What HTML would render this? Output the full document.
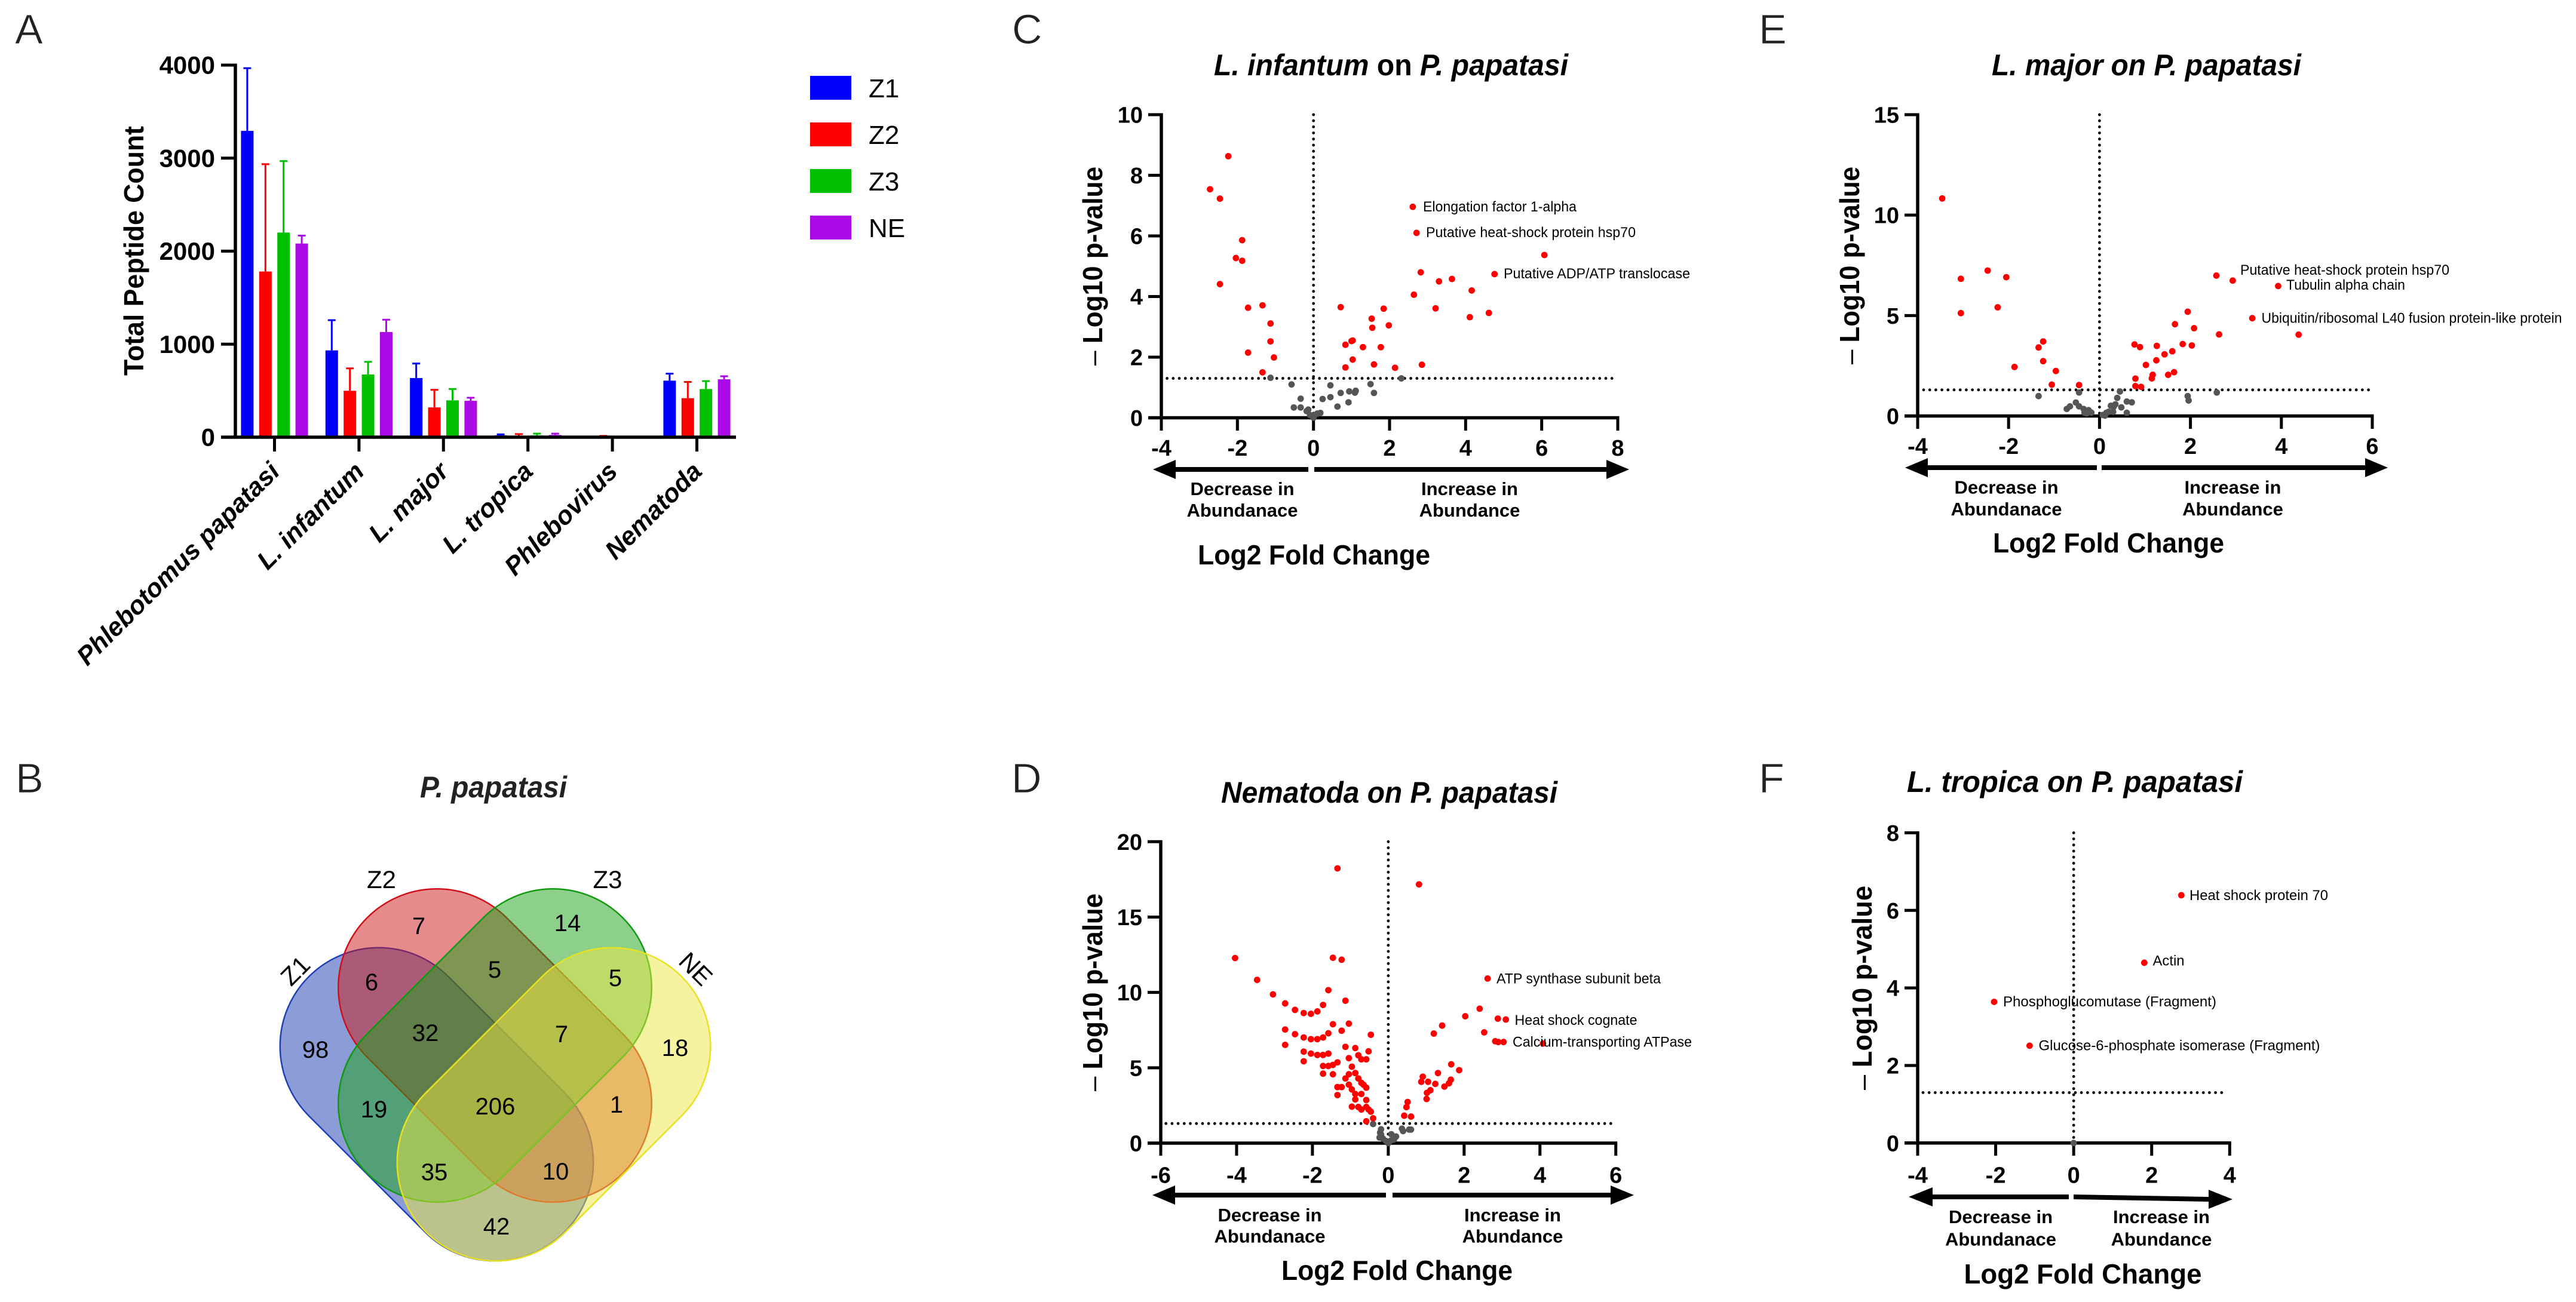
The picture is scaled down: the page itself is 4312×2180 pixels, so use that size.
<!DOCTYPE html>
<html lang="en">
<head>
<meta charset="utf-8">
<title>Peptide counts and volcano plots</title>
<style>
html,body{margin:0;padding:0;background:#fff;}
svg{display:block;font-family:"Liberation Sans",Arial,sans-serif;}
.letter{font-size:70px;fill:#222;stroke:#fff;stroke-width:0.8px;}
.title{font-size:50px;font-weight:bold;fill:#000;}
.ytitle{font-size:46px;font-weight:bold;fill:#000;}
.xtitle{font-size:46px;font-weight:bold;fill:#000;}
.dir{font-size:31px;font-weight:bold;fill:#000;text-anchor:middle;}
.note{font-size:24px;fill:#000;}
.venn-n{font-size:40px;fill:#000;text-anchor:middle;}
.legend-text{font-size:44px;fill:#000;}
</style>
</head>
<body>
<svg id="fig" xmlns="http://www.w3.org/2000/svg" width="4312" height="2180" viewBox="0 0 4312 2180">
  <rect x="0" y="0" width="4312" height="2180" fill="#fff"/>

  <text class="letter" x="25" y="73">A</text>
  <text class="letter" x="26" y="1327">B</text>
  <text class="letter" x="1694" y="73">C</text>
  <text class="letter" x="1693" y="1327">D</text>
  <text class="letter" x="2944" y="73">E</text>
  <text class="letter" x="2944" y="1327">F</text>

  <g id="panelA">
    <text class="ytitle" transform="translate(240,629) rotate(-90)" textLength="418" lengthAdjust="spacingAndGlyphs">Total Peptide Count</text>
    <g>
      <g><rect x="1356" y="127" width="69" height="40" fill="#0000ff"/><text class="legend-text" x="1454" y="163">Z1</text></g>
      <g><rect x="1356" y="205" width="69" height="40" fill="#ff0000"/><text class="legend-text" x="1454" y="241">Z2</text></g>
      <g><rect x="1356" y="283" width="69" height="40" fill="#00c000"/><text class="legend-text" x="1454" y="319">Z3</text></g>
      <g><rect x="1356" y="361" width="69" height="40" fill="#aa0ae6"/><text class="legend-text" x="1454" y="397">NE</text></g>
    </g>
  </g>

  <g id="panelB">
    <text x="703" y="1335" font-size="50" font-weight="bold" font-style="italic" fill="#222" textLength="246" lengthAdjust="spacingAndGlyphs">P. papatasi</text>
    <rect x="428.5" y="1684" width="605" height="330" rx="165" ry="165" transform="rotate(45 731 1849)" fill="#1739ad" fill-opacity="0.5" stroke="#1f3fb5" stroke-width="2.5"/>
    <rect x="526" y="1585.5" width="605" height="330" rx="165" ry="165" transform="rotate(45 828.5 1750.5)" fill="#cb1719" fill-opacity="0.5" stroke="#d01018" stroke-width="2.5"/>
    <rect x="526" y="1585.5" width="605" height="330" rx="165" ry="165" transform="rotate(-45 828.5 1750.5)" fill="#19a119" fill-opacity="0.5" stroke="#109a10" stroke-width="2.5"/>
    <rect x="624.5" y="1684" width="605" height="330" rx="165" ry="165" transform="rotate(-45 927 1849)" fill="#ebe741" fill-opacity="0.5" stroke="#e8e020" stroke-width="2.5"/>
    <text x="0" y="0" font-size="42" text-anchor="middle" transform="translate(494,1625) rotate(-45) translate(0,15)">Z1</text>
    <text x="638.5" y="1487" font-size="42" text-anchor="middle">Z2</text>
    <text x="1017" y="1487" font-size="42" text-anchor="middle">Z3</text>
    <text x="0" y="0" font-size="42" text-anchor="middle" transform="translate(1165,1622) rotate(45) translate(0,15)">NE</text>
    <text class="venn-n" x="528" y="1771">98</text>
    <text class="venn-n" x="701" y="1564">7</text>
    <text class="venn-n" x="950" y="1559">14</text>
    <text class="venn-n" x="1130" y="1768">18</text>
    <text class="venn-n" x="622" y="1658">6</text>
    <text class="venn-n" x="828" y="1637">5</text>
    <text class="venn-n" x="1030" y="1651">5</text>
    <text class="venn-n" x="712" y="1743">32</text>
    <text class="venn-n" x="940" y="1745">7</text>
    <text class="venn-n" x="626" y="1871">19</text>
    <text class="venn-n" x="829" y="1866">206</text>
    <text class="venn-n" x="1032" y="1863">1</text>
    <text class="venn-n" x="727" y="1976">35</text>
    <text class="venn-n" x="930" y="1975">10</text>
    <text class="venn-n" x="831" y="2067">42</text>
  </g>

  <g id="panelC"></g>
  <g id="panelD"></g>
  <g id="panelE"></g>
  <g id="panelF"></g>

  <g>
    <text class="title" x="2032" y="126" textLength="593" lengthAdjust="spacingAndGlyphs"><tspan font-style="italic">L. infantum</tspan> on <tspan font-style="italic">P. papatasi</tspan></text>
    <text class="ytitle" transform="translate(1845,612) rotate(-90)" textLength="333" lengthAdjust="spacingAndGlyphs"><tspan font-weight="normal">–</tspan> Log10 p-value</text>
    <polygon points="1930,786 1968,770 1968,782 2190,782 2190,790 1968,790 1968,802"/>
    <polygon points="2727,786 2689,770 2689,782 2200,782 2200,790 2689,790 2689,802"/>
    <text class="dir" x="2079.5" y="829">Decrease in</text>
    <text class="dir" x="2079.5" y="865">Abundanace</text>
    <text class="dir" x="2460" y="829">Increase in</text>
    <text class="dir" x="2460" y="865">Abundance</text>
    <text class="xtitle" x="2005" y="945" textLength="389" lengthAdjust="spacingAndGlyphs">Log2 Fold Change</text>
    <text class="note" x="2382" y="354" textLength="257" lengthAdjust="spacingAndGlyphs">Elongation factor 1-alpha</text>
    <text class="note" x="2387" y="397" textLength="351" lengthAdjust="spacingAndGlyphs">Putative heat-shock protein hsp70</text>
    <text class="note" x="2517" y="466" textLength="312" lengthAdjust="spacingAndGlyphs">Putative ADP/ATP translocase</text>
  </g>

  <g>
    <text class="title" x="2044" y="1344" font-style="italic" textLength="563" lengthAdjust="spacingAndGlyphs">Nematoda on P. papatasi</text>
    <text class="ytitle" transform="translate(1845,1827) rotate(-90)" textLength="331" lengthAdjust="spacingAndGlyphs"><tspan font-weight="normal">–</tspan> Log10 p-value</text>
    <polygon points="1929,2001 1967,1985 1967,1997 2320,1997 2320,2005 1967,2005 1967,2017"/>
    <polygon points="2735,2001 2696,1985 2696,1997 2331,1997 2331,2005 2696,2005 2696,2017"/>
    <text class="dir" x="2125.5" y="2045">Decrease in</text>
    <text class="dir" x="2125.5" y="2080.5">Abundanace</text>
    <text class="dir" x="2532" y="2045">Increase in</text>
    <text class="dir" x="2532" y="2080.5">Abundance</text>
    <text class="xtitle" x="2145" y="2143" textLength="387" lengthAdjust="spacingAndGlyphs">Log2 Fold Change</text>
    <text class="note" x="2505" y="1646.5" textLength="275" lengthAdjust="spacingAndGlyphs">ATP synthase subunit beta</text>
    <text class="note" x="2535.5" y="1716" textLength="205" lengthAdjust="spacingAndGlyphs">Heat shock cognate</text>
    <text class="note" x="2532" y="1752.5" textLength="300" lengthAdjust="spacingAndGlyphs">Calcium-transporting ATPase</text>
  </g>

  <g>
    <text class="title" x="3334" y="126" font-style="italic" textLength="518" lengthAdjust="spacingAndGlyphs">L. major on P. papatasi</text>
    <text class="ytitle" transform="translate(3112,610) rotate(-90)" textLength="331" lengthAdjust="spacingAndGlyphs"><tspan font-weight="normal">–</tspan> Log10 p-value</text>
    <polygon points="3189,783 3227,767 3227,779 3510,779 3510,787 3227,787 3227,799"/>
    <polygon points="3997,783 3959,767 3959,779 3518,779 3518,787 3959,787 3959,799"/>
    <text class="dir" x="3358.5" y="826.5">Decrease in</text>
    <text class="dir" x="3358.5" y="863">Abundanace</text>
    <text class="dir" x="3737.5" y="826.5">Increase in</text>
    <text class="dir" x="3737.5" y="863">Abundance</text>
    <text class="xtitle" x="3336" y="925" textLength="387" lengthAdjust="spacingAndGlyphs">Log2 Fold Change</text>
    <text class="note" x="3750" y="460" textLength="350" lengthAdjust="spacingAndGlyphs">Putative heat-shock protein hsp70</text>
    <text class="note" x="3827" y="485" textLength="199" lengthAdjust="spacingAndGlyphs">Tubulin alpha chain</text>
    <text class="note" x="3785.5" y="540.5" textLength="503" lengthAdjust="spacingAndGlyphs">Ubiquitin/ribosomal L40 fusion protein-like protein</text>
  </g>

  <g>
    <text class="title" x="3192" y="1326" font-style="italic" textLength="562" lengthAdjust="spacingAndGlyphs">L. tropica on P. papatasi</text>
    <text class="ytitle" transform="translate(3133,1825) rotate(-90)" textLength="342" lengthAdjust="spacingAndGlyphs"><tspan font-weight="normal">–</tspan> Log10 p-value</text>
    <polygon points="3195,2004 3235,1988 3235,2000 3463,2000 3463,2008 3235,2008 3235,2020"/>
    <polygon points="3737,2008 3697,1992 3697,2004 3471,2000 3471,2008 3697,2012 3697,2024"/>
    <text class="dir" x="3349" y="2048">Decrease in</text>
    <text class="dir" x="3349" y="2085.5">Abundanace</text>
    <text class="dir" x="3618" y="2048">Increase in</text>
    <text class="dir" x="3618" y="2085.5">Abundance</text>
    <text class="xtitle" x="3287.5" y="2149" textLength="398" lengthAdjust="spacingAndGlyphs">Log2 Fold Change</text>
    <text class="note" x="3665" y="1507" textLength="232" lengthAdjust="spacingAndGlyphs">Heat shock protein 70</text>
    <text class="note" x="3603.5" y="1616.5" textLength="53" lengthAdjust="spacingAndGlyphs">Actin</text>
    <text class="note" x="3353" y="1685" textLength="357" lengthAdjust="spacingAndGlyphs">Phosphoglucomutase (Fragment)</text>
    <text class="note" x="3412.5" y="1758.5" textLength="471" lengthAdjust="spacingAndGlyphs">Glucose-6-phosphate isomerase (Fragment)</text>
  </g>
</svg>

<script>
// ---- Panel A data ----
const barCategories = ["Phlebotomus papatasi", "L. infantum", "L. major", "L. tropica", "Phlebovirus", "Nematoda"];
const barYTicks = [0, 1000, 2000, 3000, 4000];
const seriesNames = ["Z1", "Z2", "Z3", "NE"];
const meanZ1 = [3293, 933, 636, 20, 3, 608];
const meanZ2 = [1781, 499, 320, 15, 5, 419];
const meanZ3 = [2200, 674, 396, 20, 0, 518];
const meanNE = [2082, 1131, 391, 24, 0, 622];
const errZ1 = [674, 325, 156, 10, 0, 75];
const errZ2 = [1154, 241, 189, 18, 9, 175];
const errZ3 = [768, 136, 122, 18, 0, 85];
const errNE = [85, 132, 33, 14, 0, 33];

// ---- Panel C data ----
const cXTicks = [-4, -2, 0, 2, 4, 6, 8];
const cYTicks = [0, 2, 4, 6, 8, 10];
const cSigX = [-2.24,-2.72,-2.46,-1.875,-2.04,-1.875,-2.46,-1.72,-1.34,-1.13,-1.13,-1.72,-1.04,-1.34,0.715,1.845,1.53,1.545,1.98,1.0,1.03,0.84,1.30,1.77,1.03,1.59,0.84,2.145,2.85,2.64,2.82,3.30,3.64,3.21,4.16,4.11,4.61,4.76,2.61,2.71,6.07];
const cSigY = [8.63,7.54,7.23,5.86,5.27,5.18,4.41,3.63,3.71,3.11,2.52,2.15,1.99,1.50,3.65,3.60,3.27,2.97,3.05,2.53,2.55,2.41,2.33,2.33,1.92,1.76,1.66,1.65,1.75,4.06,4.80,4.50,4.58,3.61,4.20,3.32,3.46,4.74,6.96,6.10,5.37];
const cNsX = [-1.13,-0.577,-0.337,-0.517,-0.337,-0.138,-0.18,-0.09,0,0.03,0.10,0.18,0.24,0.445,0.445,0.63,0.715,0.92,0.94,1.09,1.11,1.50,1.59,2.31];
const cNsY = [1.32,1.10,0.63,0.34,0.34,0.27,0.22,0.09,0,0.09,0.14,0.16,0.62,0.68,1.07,0.37,0.82,0.51,0.87,0.83,0.89,1.11,0.82,1.30];

// ---- Panel D data ----
const dXTicks = [-6, -4, -2, 0, 2, 4, 6];
const dYTicks = [0, 5, 10, 15, 20];
const dSigX = [-1.34,-4.04,-3.46,-3.04,-2.72,-2.46,-2.23,-2.04,-1.87,-1.72,-1.58,-1.46,-1.23,-1.13,-1.46,-1.04,-1.23,-1.58,-1.72,-1.87,-2.04,-2.23,-2.46,-2.72,-2.72,-0.46,-1.13,-0.87,-0.52,-2.23,-2.04,-1.87,-1.72,-1.58,-0.79,-0.71,-0.58,-1.04,-1.34,-1.46,-1.58,-1.72,-2.23,-0.96,-1.72,-1.46,-0.87,-1.04,-1.13,-0.79,-0.71,-0.65,-0.58,-1.04,-1.34,-1.23,-0.96,-0.87,-0.71,-1.34,-0.87,-0.58,-0.96,-0.79,-0.71,-0.58,-0.52,-0.46,-0.40,-0.58,0.81,2.62,2.41,2.03,1.42,1.20,2.89,3.10,2.53,2.82,2.90,3.04,4.08,1.66,1.87,1.31,0.91,0.87,1.05,1.24,1.65,1.60,1.48,1.11,1.02,1.01,0.51,0.48,0.42,0.60];
const dSigY = [18.23,12.28,10.83,9.87,9.27,8.84,8.63,8.58,8.74,9.17,10.15,12.30,12.17,9.45,7.89,7.93,7.46,7.29,7.01,6.90,6.90,7.01,7.23,7.54,6.52,7.19,6.39,6.31,6.09,6.07,5.94,5.85,5.85,5.94,5.83,5.56,5.56,5.64,5.36,5.19,5.12,5.12,5.43,5.07,4.61,4.57,4.65,4.57,4.29,4.29,4.0,3.87,3.68,3.88,3.72,3.72,3.56,3.26,3.26,3.19,2.90,2.86,2.42,2.40,2.23,2.40,2.23,2.09,1.65,1.45,17.17,10.92,8.92,8.42,7.80,7.27,8.26,8.20,7.35,6.76,6.71,6.71,6.61,5.23,4.84,4.65,4.41,4.07,4.07,3.93,4.21,3.97,3.75,3.51,3.34,2.93,2.73,2.39,1.82,1.76];
const dNsX = [-0.40,-0.19,-0.215,-0.23,-0.14,-0.06,0,0.07,0.08,0.15,0.205,0.36,0.39,0.55,0.60,-0.19];
const dNsY = [1.27,0.92,0.70,0.37,0.30,0.145,0,0.17,0.59,0.24,0.44,0.96,0.80,0.90,0.90,0.57];

// ---- Panel E data ----
const eXTicks = [-4, -2, 0, 2, 4, 6];
const eYTicks = [0, 5, 10, 15];
const eSigX = [-3.46,-3.05,-3.05,-2.46,-2.05,-2.24,-1.87,-1.34,-1.24,-1.24,-0.96,-1.05,-0.45,0.77,0.89,1.26,1.02,1.25,1.43,1.60,1.83,2.03,1.66,1.94,2.08,2.63,2.57,2.93,3.36,0.79,1.17,1.15,1.51,1.64,0.79,0.915,3.93,4.38];
const eSigY = [10.83,6.83,5.12,7.24,6.91,5.41,2.44,3.41,3.71,2.73,2.24,1.56,1.54,3.56,3.43,3.49,2.54,2.77,3.07,3.22,3.58,3.51,4.57,5.19,4.37,4.06,6.99,6.74,4.87,1.86,2.05,1.87,2.05,2.18,1.49,1.45,6.47,4.05];
const eNsX = [-1.34,-0.45,-0.72,-0.65,-0.52,-0.45,-0.35,-0.33,-0.24,-0.18,-0.28,0.07,0.15,0.2,0.25,0.30,0.35,0.31,0.39,0.45,0.48,0.60,0.71,0.60,1.94,1.96,2.58,0.12];
const eNsY = [0.99,1.17,0.35,0.48,0.67,0.48,0.35,0.16,0.29,0.17,0.13,0.05,0.16,0.21,0.51,0.21,0.58,0.45,0.90,1.22,0.43,0.72,0.68,0.16,0.99,0.77,1.17,0.02];

// ---- Panel F data ----
const fXTicks = [-4, -2, 0, 2, 4];
const fYTicks = [0, 2, 4, 6, 8];
const fSigX = [2.76, 1.81, -2.04, -1.13];
const fSigY = [6.39, 4.65, 3.64, 2.51];
const fNsX = [0];
const fNsY = [0];

// Threshold shared by the volcano panels (-log10 of p = 0.05)
const pThreshold = 1.3;

const NS = 'http://www.w3.org/2000/svg';
function mk(tag, attrs, parent, txt) {
  const el = document.createElementNS(NS, tag);
  for (const k in attrs) el.setAttribute(k, attrs[k]);
  if (txt !== undefined) el.textContent = txt;
  parent.appendChild(el);
  return el;
}

// ---- Panel A drawing ----
(function () {
  const g = document.getElementById('panelA');
  const y0 = 732, y1 = 109, yMax = 4000;
  const groupX0 = 459.5, groupStep = 141.4, barStep = 30.4, barW = 21;
  const sy = v => y0 - (v / yMax) * (y0 - y1);
  const colors = ['#0000ff', '#ff0000', '#00c000', '#aa0ae6'];
  const means = [meanZ1, meanZ2, meanZ3, meanNE];
  const errs = [errZ1, errZ2, errZ3, errNE];

  means.forEach((series, s) => {
    series.forEach((v, i) => {
      const cx = groupX0 + i * groupStep + (s - 1.5) * barStep;
      const bar = mk('rect', { x: cx - barW / 2, y: sy(v), width: barW, height: y0 - sy(v), fill: colors[s] }, g);
      
      
      const top = sy(v + errs[s][i]);
      const stem = mk('line', { x1: cx, x2: cx, y1: sy(v), y2: top, stroke: colors[s], 'stroke-width': 3 }, g);
      
      
      const cap = mk('line', { x1: cx - 6.5, x2: cx + 6.5, y1: top, y2: top, stroke: colors[s], 'stroke-width': 3 }, g);
      
      
    });
  });

  const yAxis = mk('line', { x1: 394, x2: 394, y1: y1 - 2.5, y2: y0 + 2.5, stroke: '#000', 'stroke-width': 5.5 }, g);
  
  
  const xAxis = mk('line', { x1: 370, x2: 1232, y1: y0, y2: y0, stroke: '#000', 'stroke-width': 5.5 }, g);
  
  

  barYTicks.forEach(t => {
    const tick = mk('line', { x1: 370, x2: 394, y1: sy(t), y2: sy(t), stroke: '#000', 'stroke-width': 5 }, g);
    
    
    const lab = mk('text', { x: 360, y: sy(t) + 14.5, 'text-anchor': 'end', 'font-size': 42, 'font-weight': 'bold' }, g, String(t));
    
    
  });
  barCategories.forEach((c, i) => {
    const cx = groupX0 + i * groupStep;
    const tick = mk('line', { x1: cx, x2: cx, y1: y0, y2: y0 + 24, stroke: '#000', 'stroke-width': 5 }, g);
    
    
    const lab = mk('text', { transform: 'translate(' + (cx + 11) + ',792) rotate(-45)', 'text-anchor': 'end', 'font-size': 43, 'font-weight': 'bold', 'font-style': 'italic' }, g, c);
    
    
  });
})();

// ---- Volcano drawing ----
function volcano(id, p, xTicks, yTicks, sigX, sigY, nsX, nsY) {
  const g = document.getElementById(id);
  const xMin = xTicks[0], xMax = xTicks[xTicks.length - 1];
  const yMin = yTicks[0], yMax = yTicks[yTicks.length - 1];
  const sx = v => p.left + (v - xMin) / (xMax - xMin) * (p.right - p.left);
  const sy = v => p.bottom - (v - yMin) / (yMax - yMin) * (p.bottom - p.top);

  const yAxis = mk('line', { x1: p.left, x2: p.left, y1: p.top - 2.5, y2: p.bottom + 2.5, stroke: '#000', 'stroke-width': 5.5 }, g);
  
  
  const xAxis = mk('line', { x1: p.left - 22, x2: p.right + 2.5, y1: p.bottom, y2: p.bottom, stroke: '#000', 'stroke-width': 5.5 }, g);
  
  

  yTicks.forEach(t => {
    const tick = mk('line', { x1: p.left - 22, x2: p.left, y1: sy(t), y2: sy(t), stroke: '#000', 'stroke-width': 5 }, g);
    
    
    const lab = mk('text', { x: p.yLabelRight, y: sy(t) + 13.5, 'text-anchor': 'end', 'font-size': 38, 'font-weight': 'bold' }, g, String(t));
    
    
  });
  xTicks.forEach(t => {
    const tick = mk('line', { x1: sx(t), x2: sx(t), y1: p.bottom, y2: p.tickBottom, stroke: '#000', 'stroke-width': 5 }, g);
    
    
    const lab = mk('text', { x: sx(t), y: p.xLabelBase, 'text-anchor': 'middle', 'font-size': 38, 'font-weight': 'bold' }, g, String(t));
    
    
  });

  const hLine = mk('line', { x1: p.dotLeft, x2: p.dotRight, y1: sy(pThreshold), y2: sy(pThreshold), stroke: '#000', 'stroke-width': 4.8, 'stroke-linecap': 'round', 'stroke-dasharray': '0 10.2' }, g);
  
  
  const vLine = mk('line', { x1: sx(0), x2: sx(0), y1: p.top, y2: p.bottom, stroke: '#000', 'stroke-width': 4.8, 'stroke-linecap': 'round', 'stroke-dasharray': '0 10.2' }, g);
  
  

  nsX.forEach((x, i) => {
    const pt = mk('circle', { cx: sx(x), cy: sy(nsY[i]), r: 5.4, fill: '#555' }, g);
    
    
  });
  sigX.forEach((x, i) => {
    const pt = mk('circle', { cx: sx(x), cy: sy(sigY[i]), r: 5.4, fill: '#ff0000' }, g);
    
    
  });
}

volcano('panelC', { left: 1944, right: 2708, top: 192, bottom: 699.5, tickBottom: 721, yLabelRight: 1913, xLabelBase: 763, dotLeft: 1953.6, dotRight: 2704 }, cXTicks, cYTicks, cSigX, cSigY, cNsX, cNsY);
volcano('panelD', { left: 1943, right: 2704.7, top: 1409.3, bottom: 1914, tickBottom: 1935, yLabelRight: 1912, xLabelBase: 1980.5, dotLeft: 1951.7, dotRight: 2700 }, dXTicks, dYTicks, dSigX, dSigY, dNsX, dNsY);
volcano('panelE', { left: 3210, right: 3971, top: 192, bottom: 696.5, tickBottom: 718, yLabelRight: 3179, xLabelBase: 760, dotLeft: 3220, dotRight: 3967.6 }, eXTicks, eYTicks, eSigX, eSigY, eNsX, eNsY);
volcano('panelF', { left: 3210, right: 3732.3, top: 1394.4, bottom: 1913.8, tickBottom: 1935, yLabelRight: 3179, xLabelBase: 1980.5, dotLeft: 3219, dotRight: 3726 }, fXTicks, fYTicks, fSigX, fSigY, fNsX, fNsY);
</script>
</body>
</html>
